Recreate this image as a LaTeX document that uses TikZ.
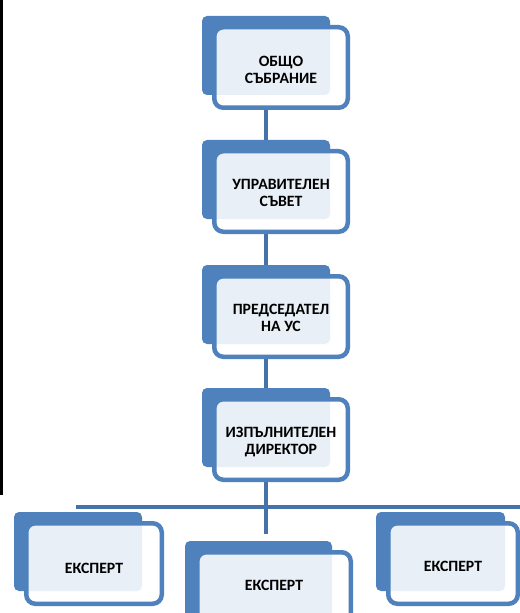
\documentclass[tikz,border=0pt]{standalone}
\usepackage{fontspec}
\setmainfont{Carlito}
\usetikzlibrary{backgrounds}
\definecolor{boxblue}{RGB}{79,129,189}
\definecolor{linkblue}{RGB}{70,114,170}
\newcommand\orgbox[7]{%
  \node[backrect, anchor=north west, minimum width=#4bp, minimum height=79bp] (#1back) at (#2,#3) {};
  \node[frame, anchor=north west, minimum width=#5bp-4.5bp, minimum height=80.5bp] (#1) at ({#2+12.25},{#3+11.25}) {};
  \node[boxlabel] (#1text) at ({#2+10+#5/2},{#3+#6}) {#7};
}
\begin{document}
\begin{tikzpicture}[x=1bp,y=-1bp,
  backrect/.style={fill=boxblue, rounded corners=5bp, inner sep=0pt, outer sep=0pt},
  frame/.style={draw=boxblue, line width=4.5bp, fill=white, fill opacity=0.875, rounded corners=9bp, inner sep=0pt, outer sep=0pt},
  boxlabel/.style={font=\fontsize{15.8}{17.2}\selectfont\bfseries, align=center, text=black, inner sep=0pt},
  link/.style={draw=linkblue, line width=4bp}]
\useasboundingbox (0,0) rectangle (520,613);
\clip (0,0) rectangle (520,613);
\fill[black] (0,0) rectangle (3,495);
\orgbox{f1}{202}{16}{128}{138}{54}{ОБЩО\\СЪБРАНИЕ}
\orgbox{f2}{202}{140}{128}{138}{53}{УПРАВИТЕЛЕН\\СЪВЕТ}
\orgbox{f3}{202}{265}{128}{138}{53}{ПРЕДСЕДАТЕЛ\\НА УС}
\orgbox{f4}{202}{388}{128}{138}{54}{ИЗПЪЛНИТЕЛЕН\\ДИРЕКТОР}
\orgbox{e1}{14}{512}{128}{140}{56}{ЕКСПЕРТ}
\orgbox{e2}{185}{541}{147}{158}{44}{ЕКСПЕРТ}
\orgbox{e3}{376}{512}{129}{134}{54}{ЕКСПЕРТ}
\coordinate (busl) at (76,507);
\coordinate (busr) at (520,507);
\coordinate (stub) at (268,534);
\coordinate (c4) at ([xshift=-15bp]f4.south);
\begin{pgfonlayer}{background}
\draw[link] ([xshift=-15bp]f1.south) -- ([xshift=-15bp]f2.north);
\draw[link] ([xshift=-15bp]f2.south) -- ([xshift=-15bp]f3.north);
\draw[link] ([xshift=-15bp]f3.south) -- ([xshift=-15bp]f4.north);
\draw[link] (c4) -- (c4 |- stub);
\draw[link] (busl) -- (busr);
\end{pgfonlayer}
\end{tikzpicture}
\end{document}
